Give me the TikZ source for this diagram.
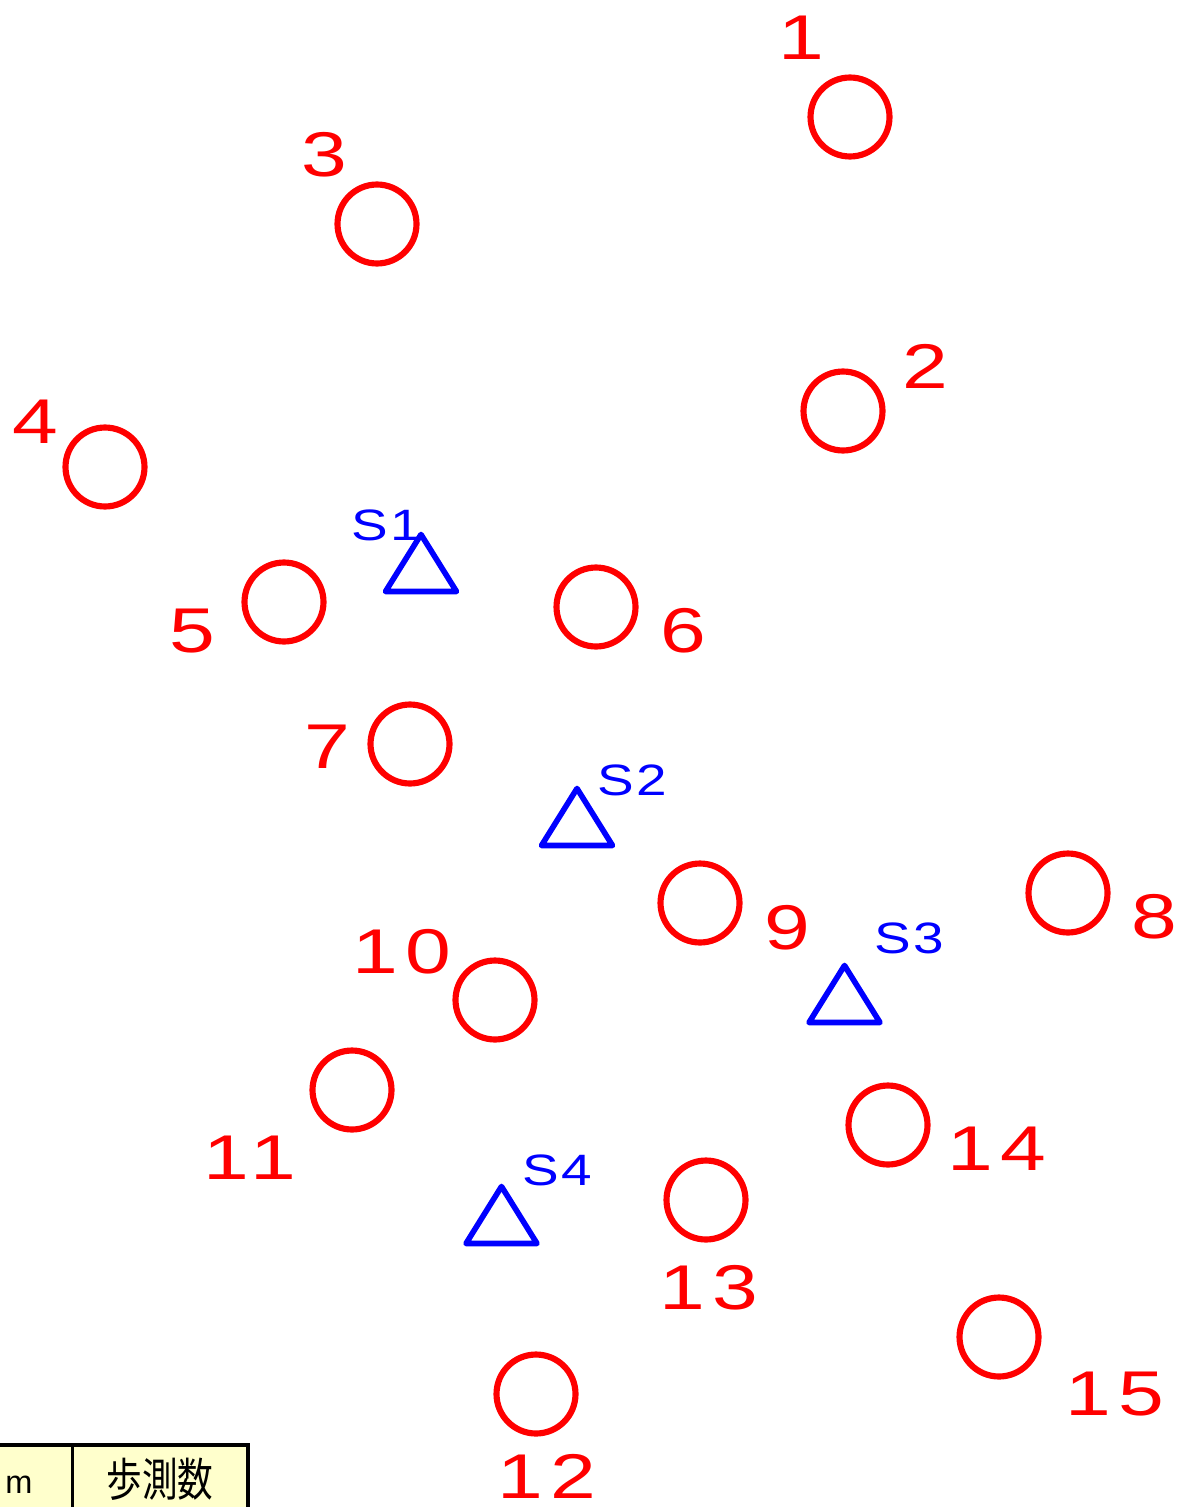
\documentclass[tikz,border=0pt]{standalone}
\usepackage{fontspec}
\setmainfont{Liberation Sans}
\newfontfamily\numfont[FakeStretch=1.3,LetterSpace=11]{Liberation Sans}
\newfontfamily\stnfont[FakeStretch=1.25,LetterSpace=5]{Liberation Sans}
\newfontfamily\jpfont[FakeStretch=0.78]{Noto Sans CJK JP}
\definecolor{tablefill}{HTML}{FFFFCC}

\begin{document}
\begin{tikzpicture}[x=0.02cm, y=-0.02cm]
    % ===== PARAMETERS =====
    \pgfmathsetmacro{\W}{1179}   % picture width (px)
    \pgfmathsetmacro{\H}{1507}   % picture height (px)
    \pgfmathsetmacro{\LW}{3.5}   % circle line width in pt
    \pgfmathsetmacro{\TW}{3.2}   % triangle line width in pt

    \useasboundingbox (0,0) rectangle (\W,\H);
    \clip (0,0) rectangle (\W,\H);

    % ===== STYLES =====
    \tikzset{
        tree/.style={
            circle, draw=red, line width=\LW pt,
            minimum size=1.58cm, inner sep=0pt
        },
        treenum/.style={
            text=red, inner sep=0pt,
            font=\numfont\fontsize{36}{40}\selectfont
        },
        station/.style={draw=blue, line width=\TW pt, line join=round},
        stationname/.style={
            text=blue, inner sep=0pt,
            font=\stnfont\fontsize{25}{28}\selectfont
        }
    }

    % ===== TREES =====
    \node[tree] (t1)  at (850,117)  {};
    \node[tree] (t2)  at (843,411)  {};
    \node[tree] (t3)  at (377,224)  {};
    \node[tree] (t4)  at (105,467)  {};
    \node[tree] (t5)  at (284,602)  {};
    \node[tree] (t6)  at (596,607)  {};
    \node[tree] (t7)  at (410,744)  {};
    \node[tree] (t8)  at (1068,893) {};
    \node[tree] (t9)  at (700,903)  {};
    \node[tree] (t10) at (495,1000) {};
    \node[tree] (t11) at (352,1090) {};
    \node[tree] (t12) at (536,1394) {};
    \node[tree] (t13) at (706,1200) {};
    \node[tree] (t14) at (888,1125) {};
    \node[tree] (t15) at (999,1337) {};

    % Tree numbers
    \node[treenum] (n1)  at (801,38)    {1};
    \node[treenum] (n2)  at (925,366)   {2};
    \node[treenum] (n3)  at (324,155)   {3};
    \node[treenum] (n4)  at (35,422)    {4};
    \node[treenum] (n5)  at (192,631)   {5};
    \node[treenum] (n6)  at (683,631)   {6};
    \node[treenum] (n7)  at (327,747)   {7};
    \node[treenum] (n8)  at (1154,917)  {8};
    \node[treenum] (n9)  at (787,928)   {9};
    \node[treenum] (n10) at (402,952)   {10};
    \node[treenum] (n11) at (250,1158)  {11};
    \node[treenum] (n12) at (547,1476)  {12};
    \node[treenum] (n13) at (709,1288)  {13};
    \node[treenum] (n14) at (997,1149)  {14};
    \node[treenum] (n15) at (1115,1394) {15};

    % ===== STATIONS =====
    \coordinate (s1) at (421,563);
    \coordinate (s2) at (577,817);
    \coordinate (s3) at (844.5,994);
    \coordinate (s4) at (501.5,1215);
    \draw[station] (s1) ++(0,-28.5) -- ++(35.5,57) -- ++(-71,0) -- cycle;
    \draw[station] (s2) ++(0,-28.5) -- ++(35.5,57) -- ++(-71,0) -- cycle;
    \draw[station] (s3) ++(0,-28.5) -- ++(35.5,57) -- ++(-71,0) -- cycle;
    \draw[station] (s4) ++(0,-28.5) -- ++(35.5,57) -- ++(-71,0) -- cycle;

    \node[stationname] (l1) at (386,525)  {S1};
    \node[stationname] (l2) at (632,780)  {S2};
    \node[stationname] (l3) at (909,938)  {S3};
    \node[stationname] (l4) at (557,1170) {S4};

    % ===== LEGEND TABLE (cut by the edge) =====
    \fill[tablefill] (-20,1445) rectangle (248,1540);
    \draw[line width=2.3pt] (-20,1445) rectangle (248,1540);
    \draw[line width=1.7pt] (72.5,1445) -- (72.5,1540);
    \node[font=\fontsize{18.5}{20}\selectfont, inner sep=0pt] (unit) at (19,1485) {m};
    \node[font=\jpfont\fontsize{26}{28}\selectfont, inner sep=0pt] (steps) at (160,1479) {歩測数};
\end{tikzpicture}
\end{document}
